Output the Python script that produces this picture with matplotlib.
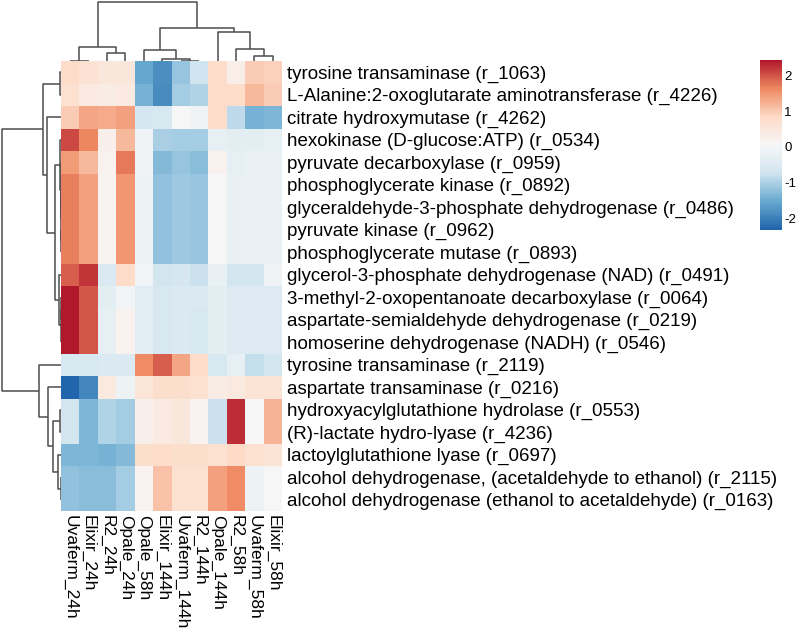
import matplotlib
matplotlib.use('Agg')
import matplotlib.pyplot as plt
from matplotlib.colors import LinearSegmentedColormap
import numpy as np

plt.rcParams['font.family'] = ['Liberation Sans', 'DejaVu Sans']

W = 797; H = 632
LINE_COLOR = '#4d4d4d'

# column order as displayed (after clustering)
samples = ['Uvaferm_24h', 'Elixir_24h', 'R2_24h', 'Opale_24h', 'Opale_58h', 'Elixir_144h',
           'Uvaferm_144h', 'R2_144h', 'Opale_144h', 'R2_58h', 'Uvaferm_58h', 'Elixir_58h']

reactions = [
    'tyrosine transaminase (r_1063)',
    'L-Alanine:2-oxoglutarate aminotransferase (r_4226)',
    'citrate hydroxymutase (r_4262)',
    'hexokinase (D-glucose:ATP) (r_0534)',
    'pyruvate decarboxylase (r_0959)',
    'phosphoglycerate kinase (r_0892)',
    'glyceraldehyde-3-phosphate dehydrogenase (r_0486)',
    'pyruvate kinase (r_0962)',
    'phosphoglycerate mutase (r_0893)',
    'glycerol-3-phosphate dehydrogenase (NAD) (r_0491)',
    '3-methyl-2-oxopentanoate decarboxylase (r_0064)',
    'aspartate-semialdehyde dehydrogenase (r_0219)',
    'homoserine dehydrogenase (NADH) (r_0546)',
    'tyrosine transaminase (r_2119)',
    'aspartate transaminase (r_0216)',
    'hydroxyacylglutathione hydrolase (r_0553)',
    '(R)-lactate hydro-lyase (r_4236)',
    'lactoylglutathione lyase (r_0697)',
    'alcohol dehydrogenase, (acetaldehyde to ethanol) (r_2115)',
    'alcohol dehydrogenase (ethanol to acetaldehyde) (r_0163)',
]

# row-scaled values, one list per reaction (same order as samples)
r_1063 = [0.8, 0.65, 0.5, 0.5, -1.55, -1.8, -1.15, -0.72, 0.8, 0.3, 1.0, 0.95]
r_4226 = [0.7, 0.4, 0.35, 0.4, -1.4, -1.85, -1.05, -0.95, 0.8, 0.8, 1.15, 1.0]
r_4262 = [1.0, 1.35, 1.3, 1.4, -0.65, -0.6, 0.1, -0.1, 0.8, -0.85, -1.4, -1.35]
r_0534 = [2.05, 1.63, 0.25, 1.15, -0.1, -1.0, -1.05, -1.05, -0.3, -0.35, -0.35, -0.3]
r_0959 = [1.45, 1.15, 0.2, 1.75, -0.1, -1.3, -1.15, -1.25, 0.2, -0.3, -0.2, -0.2]
r_0892 = [1.7, 1.4, 0.15, 1.5, -0.15, -1.2, -1.1, -1.15, 0.05, -0.25, -0.2, -0.2]
r_0486 = [1.7, 1.4, 0.15, 1.5, -0.15, -1.2, -1.1, -1.15, 0.05, -0.25, -0.2, -0.2]
r_0962 = [1.7, 1.4, 0.15, 1.5, -0.15, -1.2, -1.1, -1.15, 0.05, -0.25, -0.2, -0.2]
r_0893 = [1.7, 1.4, 0.15, 1.5, -0.15, -1.2, -1.1, -1.15, 0.05, -0.25, -0.2, -0.2]
r_0491 = [1.9, 2.2, -0.55, 0.8, -0.05, -0.7, -0.65, -0.75, -0.25, -0.7, -0.7, -0.1]
r_0064 = [2.42, 1.95, -0.35, -0.05, -0.4, -0.6, -0.55, -0.55, -0.35, -0.5, -0.5, -0.5]
r_0219 = [2.42, 1.95, -0.3, 0.2, -0.4, -0.6, -0.55, -0.6, -0.35, -0.5, -0.5, -0.5]
r_0546 = [2.42, 1.95, -0.3, 0.2, -0.4, -0.6, -0.55, -0.6, -0.35, -0.5, -0.5, -0.5]
r_2119 = [-0.6, -0.6, -0.55, -0.55, 1.6, 1.9, 1.35, 0.8, -0.6, -0.3, -0.8, -0.7]
r_0216 = [-2.31, -1.9, 0.45, -0.15, 0.55, 0.75, 0.75, 0.7, 0.35, 0.45, 0.6, 0.6]
r_0553 = [-0.7, -1.35, -0.95, -1.05, 0.25, 0.4, 0.5, 0.15, -0.75, 2.25, 0.05, 1.2]
r_4236 = [-0.7, -1.35, -0.95, -1.05, 0.25, 0.4, 0.5, 0.15, -0.75, 2.25, 0.05, 1.2]
r_0697 = [-1.35, -1.35, -1.4, -1.3, 0.75, 0.8, 0.75, 0.75, 0.7, 0.85, 0.7, 0.6]
r_2115 = [-1.2, -1.25, -1.25, -1.05, 0.15, 1.05, 0.7, 0.7, 1.4, 1.6, -0.15, 0.1]
r_0163 = [-1.2, -1.25, -1.25, -1.05, 0.15, 1.05, 0.7, 0.7, 1.4, 1.6, -0.15, 0.1]

values = np.array([r_1063, r_4226, r_4262, r_0534, r_0959, r_0892, r_0486, r_0962, r_0893,
                   r_0491, r_0064, r_0219, r_0546, r_2119, r_0216, r_0553, r_4236, r_0697,
                   r_2115, r_0163])

# dendrogram merges (child a, child b, height); ids >= n refer to earlier merges
col_merges = [(0, 1, 0.5), (6, 7, 0.5), (5, 13, 2), (10, 11, 5), (2, 3, 8), (4, 14, 11),
              (9, 15, 12), (12, 16, 14), (8, 18, 29), (17, 20, 33), (19, 21, 59)]
row_merges = [(5, 6, 0.2), (7, 8, 0.2), (20, 21, 0.3), (4, 22, 0.5), (3, 23, 1), (0, 1, 1),
              (10, 11, 0.2), (26, 12, 0.3), (9, 27, 2.3), (24, 28, 6), (2, 29, 14.3),
              (25, 30, 17.7), (18, 19, 0.3), (17, 32, 2.7), (15, 16, 1), (34, 33, 8),
              (14, 35, 12.7), (13, 36, 21.7), (31, 37, 59.3)]

VMIN = -2.31; VMAX = 2.42
cmap = LinearSegmentedColormap.from_list(
    'rdbu7', ['#2166AC', '#67A9CF', '#D1E5F0', '#F7F7F7', '#FDDBC7', '#EF8A62', '#B2182B'], N=100)


def px_axes(fig, x0, y0, x1, y1):
    return fig.add_axes([x0 / W, 1 - y1 / H, (x1 - x0) / W, (y1 - y0) / H])


def dendro_segments(merges, n):
    pos = {i: i + 0.5 for i in range(n)}
    hgt = {i: 0.0 for i in range(n)}
    segs = []
    for k, (a, b, h) in enumerate(merges):
        segs.append(([pos[a], pos[a], pos[b], pos[b]], [hgt[a], h, h, hgt[b]]))
        pos[n + k] = (pos[a] + pos[b]) / 2
        hgt[n + k] = h
    return segs


fig = plt.figure(figsize=(W / 100, H / 100), dpi=100)

# heatmap
ax = px_axes(fig, 61, 61, 282, 511)
mesh = ax.pcolormesh(values, cmap=cmap, vmin=VMIN, vmax=VMAX)
ax.set_xlim(0, len(samples))
ax.set_ylim(len(reactions), 0)
ax.yaxis.tick_right()
ax.set_yticks(np.arange(len(reactions)) + 0.5)
ax.set_yticklabels(reactions, fontsize=13.5)
ax.set_xticks(np.arange(len(samples)) + 0.5)
ax.set_xticklabels(samples, fontsize=12.5, rotation=270)
ax.tick_params(axis='y', length=0, pad=3.5)
ax.tick_params(axis='x', length=0, pad=3)
for s in ax.spines.values():
    s.set_visible(False)

# column dendrogram
axc = px_axes(fig, 61, 0, 282, 61)
for xs, ys in dendro_segments(col_merges, len(samples)):
    axc.plot(xs, ys, color=LINE_COLOR, linewidth=1.1, solid_capstyle='butt')
axc.set_xlim(0, len(samples))
axc.set_ylim(0, 61)
axc.axis('off')

# row dendrogram
axr = px_axes(fig, 0, 61, 61, 511)
for ys, xs in dendro_segments(row_merges, len(reactions)):
    axr.plot(xs, ys, color=LINE_COLOR, linewidth=1.1, solid_capstyle='butt')
axr.set_xlim(61, 0)
axr.set_ylim(len(reactions), 0)
axr.axis('off')

# colour legend
cax = px_axes(fig, 760, 60, 782, 230)
cb = fig.colorbar(mesh, cax=cax, ticks=[-2, -1, 0, 1, 2])
cb.outline.set_visible(False)
cb.ax.tick_params(length=0, pad=1.5, labelsize=9.5)
cb.ax.set_yticklabels(['-2', '-1', '0', '1', '2'])

fig.savefig('out.png', dpi=100)
